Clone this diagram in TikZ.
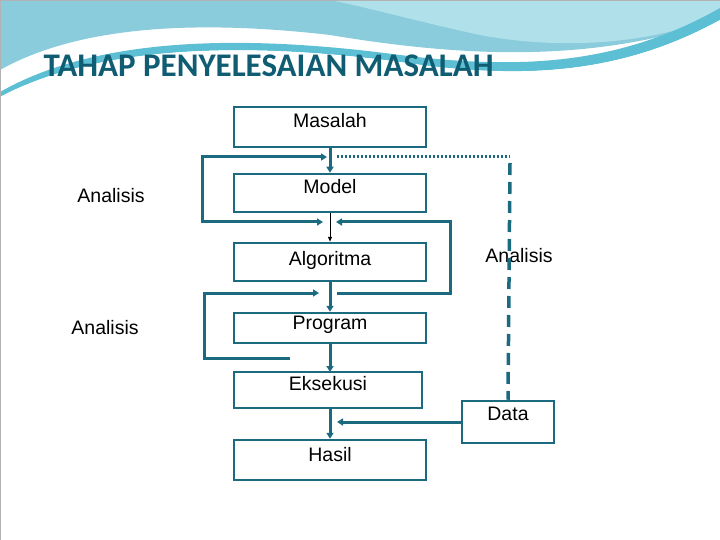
\documentclass[tikz,border=0pt]{standalone}
\usepackage{fontspec}
\usetikzlibrary{arrows.meta}
\setmainfont{Liberation Sans}
\newfontfamily\titlefont{Carlito}
\definecolor{teal1}{HTML}{1C6A80}
\definecolor{ttl}{HTML}{0F5C73}
\definecolor{wave1}{HTML}{8ACCDB}
\definecolor{wave2}{HTML}{B0E0EA}
\definecolor{wave3}{HTML}{5CBFD4}
\begin{document}
\begin{tikzpicture}[x=1pt,y=-1pt,
  box/.style={draw=teal1,line width=2.5pt,minimum width=192pt,minimum height=40pt,inner sep=0pt},
  lbl/.style={font=\fontsize{19.5}{21}\selectfont},
  thick arr/.style={draw=teal1,line width=3pt,-{Triangle[length=6pt,width=7pt]}},
  thin arr/.style={draw=black,line width=1pt,-{Triangle[length=5pt,width=4pt]}}]
\useasboundingbox (0,0) rectangle (720,540);
% header waves
\fill[wave1] (0,0) -- (720,0) -- (720,20) .. controls (600,60) and (480,60) .. (330,35) .. controls (200,20) and (80,25) .. (0,70) -- cycle;
\fill[wave2] (330,0) -- (720,0) -- (720,15) .. controls (650,45) and (560,50) .. (480,35) .. controls (420,22) and (370,8) .. (330,0) -- cycle;
\fill[wave3] (0,92) .. controls (100,35) and (250,35) .. (400,55) .. controls (520,70) and (620,65) .. (720,8) -- (720,20) .. controls (620,75) and (520,80) .. (400,62) .. controls (250,42) and (100,44) .. (0,97) -- cycle;
\fill[white] (0,97) .. controls (100,44) and (250,42) .. (400,62) .. controls (520,80) and (620,75) .. (720,20) -- (720,540) -- (0,540) -- cycle;
\draw[gray!60,line width=0.8pt] (0,0) rectangle (720,540);
\node[anchor=west,text=ttl,font=\titlefont\bfseries\fontsize{33}{35}\selectfont] (title) at (40,66) {TAHAP PENYELESAIAN MASALAH};
% boxes
\node[box] (mas) at (330,127) {};
\node[lbl] (masT) at (330,121) {Masalah};
\node[box,minimum height=38pt] (mod) at (330,193) {};
\node[lbl] (modT) at (330,187) {Model};
\node[box,minimum height=38pt] (alg) at (330,262) {};
\node[lbl] (algT) at (330,260) {Algoritma};
\node[box,minimum height=30pt] (prg) at (330,328) {};
\node[lbl] (prgT) at (330,325) {Program};
\node[box,minimum width=188pt,minimum height=36pt] (eks) at (328,390) {};
\node[lbl] (eksT) at (328,384) {Eksekusi};
\node[box] (has) at (330,460) {};
\node[lbl] (hasT) at (330,455) {Hasil};
\node[box,minimum width=92pt,minimum height=42pt] (dat) at (508,422) {};
\node[lbl] (datT) at (508,414) {Data};
\node[lbl] (an1) at (111,196) {Analisis};
\node[lbl] (an2) at (105,328) {Analisis};
\node[lbl] (an3) at (519,256) {Analisis};
% coordinates
\coordinate (l1a) at (327,157); \coordinate (l1b) at (202,157);
\coordinate (l1c) at (202,222); \coordinate (l1d) at (323,222);
\coordinate (r1a) at (336,222); \coordinate (r1b) at (450,222);
\coordinate (r1c) at (450,293); \coordinate (r1d) at (337,293);
\coordinate (l2a) at (319,293); \coordinate (l2b) at (204,293);
\coordinate (l2c) at (204,358); \coordinate (l2d) at (290,358);
\coordinate (d1) at (337,157); \coordinate (d2) at (510,157);
\coordinate (d3) at (510,163);
\coordinate (dend) at (337,422);
\coordinate (ek) at (330,372); \coordinate (ek2) at (330,408);
% connectors
\draw[thick arr] (mas.south) -- (mod.north);
\draw[thin arr] (mod.south) -- (alg.north);
\draw[thick arr] (alg.south) -- (prg.north);
\draw[thick arr] (prg.south) -- (ek);
\draw[thick arr] (ek2) -- (has.north);
\draw[draw=teal1,line width=3pt,{Triangle[length=6pt,width=7pt]}-{Triangle[length=6pt,width=7pt]}] (l1a) -- (l1b) -- (l1c) -- (l1d);
\draw[draw=teal1,line width=3pt,{Triangle[length=6pt,width=7pt]}-] (r1a) -- (r1b) -- (r1c) -- (r1d);
\draw[draw=teal1,line width=3pt,{Triangle[length=6pt,width=7pt]}-] (l2a) -- (l2b) -- (l2c) -- (l2d);
\draw[thick arr] (dat.west) -- (dend);
\draw[draw=teal1,line width=3pt,dash pattern=on 2pt off 2pt] (d1) -- (d2);
\draw[draw=teal1,line width=3.5pt,dash pattern=on 12pt off 7pt] (d3) -- (dat.north);
\end{tikzpicture}
\end{document}
